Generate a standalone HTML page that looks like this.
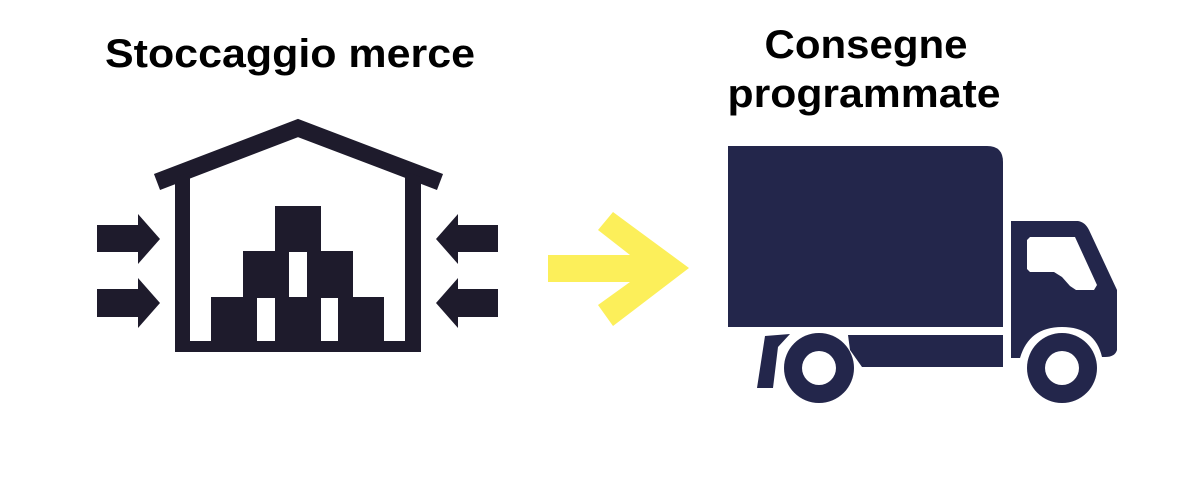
<!DOCTYPE html>
<html><head><style>
html,body{margin:0;padding:0;background:#fff;}
body{width:1200px;height:488px;overflow:hidden;position:relative;}
svg{position:absolute;left:0;top:0;}
text{font-family:"Liberation Sans",Arial,sans-serif;font-weight:bold;fill:#000;}
</style></head><body>
<svg width="1200" height="488" viewBox="0 0 1200 488">
<text x="290" y="67" font-size="40" text-anchor="middle" textLength="370" lengthAdjust="spacingAndGlyphs">Stoccaggio merce</text>
<text x="866" y="58" font-size="40" text-anchor="middle" textLength="203" lengthAdjust="spacingAndGlyphs">Consegne</text>
<text x="864" y="107" font-size="40" text-anchor="middle" textLength="273" lengthAdjust="spacingAndGlyphs">programmate</text>
<g fill="#1e1b2c">
<polyline points="157,182 298,128 440,182" fill="none" stroke="#1e1b2c" stroke-width="17" stroke-linejoin="miter"/>
<path fill-rule="evenodd" d="M175,177 L190,172 L190,341 L405,341 L405,172 L421,177 L421,352 L175,352 Z"/>
<path fill-rule="evenodd" d="M211,297 L243,297 L243,251 L275,251 L275,206 L321,206 L321,251 L353,251 L353,297 L384,297 L384,341 L211,341 Z M257,298 L275,298 L275,341 L257,341 Z M321,298 L338,298 L338,341 L321,341 Z M289,252 L307,252 L307,297 L289,297 Z"/>
<polygon points="97,225 138,225 138,214 160,239 138,264 138,252 97,252"/>
<polygon points="97,289 138,289 138,278 160,303 138,328 138,317 97,317"/>
<polygon points="498,225 458,225 458,214 436,239 458,264 458,252 498,252"/>
<polygon points="498,289 458,289 458,278 436,303 458,328 458,317 498,317"/>
</g>
<polygon fill="#fcef5a" points="598,230 613,212 689,268 613,326 598,305 630,282 548,282 548,255 630,255"/>
<g fill="#23264b">
<path d="M728,146 L987,146 Q1003,146 1003,162 L1003,327 L728,327 Z"/>
<polygon points="848,335 1003,335 1003,367 862,367 850,350"/>
<polygon points="765,336 790,334 778,347 773,388 757,388"/>
<path d="M1011,221 L1078,221 Q1085,222 1089,230 L1117,290 L1117,350 Q1115,357 1105,357 L1102,357 Q1095,327 1062,327 Q1029,327 1020,358 L1011,358 Z"/>
<circle cx="819" cy="368" r="35"/>
<circle cx="1062" cy="368" r="35"/>
</g>
<polygon fill="#fff" points="1030,237 1075,237 1097,285 1094,290 1076,290 1070,286 1062,277 1054,272 1030,272 1027,269 1027,240"/>
<circle cx="819" cy="368" r="17" fill="#fff"/>
<circle cx="1062" cy="368" r="17" fill="#fff"/>
</svg>
</body></html>
